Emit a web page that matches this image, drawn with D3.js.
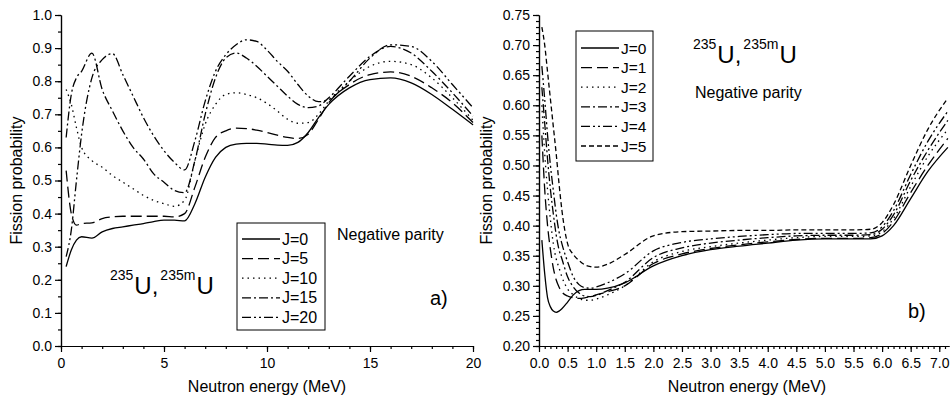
<!DOCTYPE html>
<html>
<head>
<meta charset="utf-8">
<script src="https://cdn.jsdelivr.net/npm/d3@7/dist/d3.min.js"></script>
<style>
  body { margin: 0; background: #fff; }
  svg { display: block; font-family: "Liberation Sans", Arial, sans-serif; }
  .axis path, .axis line { stroke: #000; stroke-width: 1.2; }
  .axis text { font-size: 14px; fill: #000; }
</style>
</head>
<body>
<svg id="chart" width="950" height="398"></svg>
<script>
'use strict';
/*
 *	Data - panel a)
 */
var energyA = [0.25, 0.5, 0.75, 1, 1.5, 2, 2.5, 3, 3.5, 4, 4.5, 5, 5.5, 6, 6.5, 7, 7.5, 8, 8.5, 9,
	9.5, 10, 10.5, 11, 11.5, 12, 12.5, 13, 14, 15, 16, 17, 18, 19, 20];
var aJ0  = [0.24, 0.29, 0.32, 0.33, 0.326, 0.345, 0.355, 0.36, 0.365, 0.37, 0.376, 0.38, 0.38, 0.378, 0.43, 0.51, 0.57, 0.60, 0.61, 0.612,
	0.612, 0.61, 0.607, 0.606, 0.615, 0.645, 0.69, 0.73, 0.78, 0.805, 0.81, 0.795, 0.76, 0.715, 0.668];
var aJ5  = [0.53, 0.40, 0.365, 0.37, 0.372, 0.385, 0.39, 0.392, 0.392, 0.392, 0.392, 0.392, 0.39, 0.40, 0.48, 0.57, 0.63, 0.65, 0.658, 0.657,
	0.652, 0.645, 0.637, 0.63, 0.627, 0.64, 0.685, 0.735, 0.79, 0.82, 0.828, 0.815, 0.78, 0.735, 0.675];
var aJ10 = [0.775, 0.73, 0.66, 0.60, 0.56, 0.54, 0.515, 0.495, 0.475, 0.455, 0.44, 0.43, 0.422, 0.44, 0.56, 0.67, 0.73, 0.76, 0.765, 0.76,
	0.75, 0.733, 0.71, 0.685, 0.673, 0.675, 0.70, 0.74, 0.80, 0.845, 0.86, 0.85, 0.81, 0.75, 0.682];
var aJ15 = [0.63, 0.76, 0.81, 0.83, 0.885, 0.775, 0.71, 0.65, 0.60, 0.565, 0.52, 0.495, 0.47, 0.463, 0.56, 0.70, 0.81, 0.87, 0.885, 0.87,
	0.845, 0.815, 0.785, 0.755, 0.73, 0.72, 0.725, 0.75, 0.815, 0.875, 0.905, 0.885, 0.83, 0.765, 0.695];
var aJ20 = [0.27, 0.35, 0.50, 0.64, 0.81, 0.865, 0.883, 0.82, 0.755, 0.69, 0.635, 0.59, 0.555, 0.532, 0.62, 0.74, 0.83, 0.88, 0.91, 0.925,
	0.92, 0.894, 0.86, 0.83, 0.79, 0.755, 0.738, 0.745, 0.80, 0.87, 0.91, 0.905, 0.86, 0.79, 0.72];
var labelsA = ["J=0", "J=5", "J=10", "J=15", "J=20"];

/*
 *	Data - panel b)
 */
var energyB = [0.05, 0.1, 0.15, 0.2, 0.25, 0.3, 0.35, 0.4, 0.5, 0.6, 0.7, 0.8, 0.9, 1.0, 1.2, 1.5, 2.0, 2.5, 3.0, 3.5,
	4.0, 4.5, 5.0, 5.5, 5.8, 6.0, 6.2, 6.5, 6.8, 7.15];
var bJ0 = [0.376, 0.32, 0.28, 0.265, 0.258, 0.256, 0.258, 0.262, 0.273, 0.285, 0.292, 0.294, 0.294, 0.294, 0.296, 0.305, 0.333, 0.35, 0.36, 0.366,
	0.371, 0.376, 0.378, 0.378, 0.378, 0.383, 0.40, 0.445, 0.49, 0.53];
var bJ1 = [0.55, 0.46, 0.40, 0.36, 0.33, 0.31, 0.298, 0.29, 0.283, 0.28, 0.279, 0.28, 0.282, 0.285, 0.29, 0.30, 0.337, 0.353, 0.362, 0.368,
	0.373, 0.377, 0.379, 0.379, 0.38, 0.387, 0.407, 0.455, 0.50, 0.545];
var bJ2 = [0.60, 0.52, 0.459, 0.41, 0.37, 0.345, 0.33, 0.315, 0.295, 0.285, 0.279, 0.276, 0.276, 0.278, 0.285, 0.30, 0.34, 0.357, 0.365, 0.371,
	0.376, 0.38, 0.382, 0.382, 0.383, 0.39, 0.412, 0.465, 0.515, 0.56];
var bJ3 = [0.63, 0.57, 0.51, 0.46, 0.42, 0.385, 0.36, 0.345, 0.315, 0.298, 0.288, 0.283, 0.282, 0.284, 0.292, 0.306, 0.347, 0.363, 0.371, 0.376,
	0.38, 0.383, 0.384, 0.384, 0.385, 0.394, 0.418, 0.475, 0.525, 0.575];
var bJ4 = [0.665, 0.61, 0.55, 0.50, 0.459, 0.42, 0.39, 0.37, 0.34, 0.315, 0.302, 0.297, 0.296, 0.298, 0.305, 0.32, 0.358, 0.372, 0.378, 0.382,
	0.385, 0.387, 0.387, 0.387, 0.388, 0.398, 0.425, 0.485, 0.54, 0.59];
var bJ5 = [0.73, 0.70, 0.655, 0.61, 0.565, 0.52, 0.47, 0.426, 0.37, 0.352, 0.342, 0.335, 0.332, 0.331, 0.336, 0.352, 0.383, 0.39, 0.391, 0.392,
	0.392, 0.393, 0.393, 0.393, 0.394, 0.405, 0.435, 0.50, 0.56, 0.612];
var labelsB = ["J=0", "J=1", "J=2", "J=3", "J=4", "J=5"];

// line styles
var SOLID = null, LDASH = "11,5", DOT = "1.5,4", DASHDOT = "9,3,2,3", DASHDOTDOT = "9,3,2,3,2,3", SDASH = "5,3";

var svg = d3.select("#chart");

/*
 *	Helpers
 */
function drawPanel(opt){
	var x = d3.scaleLinear().domain(opt.xDomain).range([opt.left, opt.right]);
	var y = d3.scaleLinear().domain(opt.yDomain).range([opt.bottom, opt.top]);
	var g = svg.append("g");

	// minor ticks
	g.append("g").attr("class", "axis").attr("transform", "translate(0," + opt.bottom + ")")
		.call(d3.axisBottom(x).tickValues(opt.xMinor).tickSize(3).tickFormat("").tickSizeOuter(0));
	g.append("g").attr("class", "axis").attr("transform", "translate(" + opt.left + ",0)")
		.call(d3.axisLeft(y).tickValues(opt.yMinor).tickSize(3).tickFormat("").tickSizeOuter(0));
	// major ticks
	g.append("g").attr("class", "axis").attr("transform", "translate(0," + opt.bottom + ")")
		.call(d3.axisBottom(x).tickValues(opt.xTicks).tickSize(6).tickPadding(6).tickSizeOuter(0).tickFormat(opt.xFormat));
	g.append("g").attr("class", "axis").attr("transform", "translate(" + opt.left + ",0)")
		.call(d3.axisLeft(y).tickValues(opt.yTicks).tickSize(6).tickPadding(3).tickSizeOuter(0).tickFormat(opt.yFormat));

	// axis titles
	g.append("text").attr("x", opt.titleMidX).attr("y", 392)
		.attr("text-anchor", "middle").attr("font-size", 16).text("Neutron energy (MeV)");
	g.append("text").attr("transform", "translate(" + opt.titleX + "," + ((opt.top + opt.bottom) / 2) + ") rotate(-90)")
		.attr("text-anchor", "middle").attr("font-size", 16).text("Fission probability");

	// curves
	var line = d3.line().curve(d3.curveMonotoneX)
		.x(function(d){ return x(d[0]); })
		.y(function(d){ return y(d[1]); });
	opt.series.forEach(function(s, i){
		g.append("path")
			.datum(opt.energy.map(function(e, k){ return [e, s[k]]; }))
			.attr("d", line)
			.attr("fill", "none").attr("stroke", "#000").attr("stroke-width", 1.3)
			.attr("stroke-dasharray", opt.dashes[i]);
	});

	// legend
	var lg = opt.legend;
	g.append("rect").attr("x", lg.x).attr("y", lg.y).attr("width", lg.w).attr("height", lg.h)
		.attr("fill", "#fff").attr("stroke", "#000").attr("stroke-width", 1);
	opt.labels.forEach(function(lab, i){
		var yy = lg.y + lg.first + i * lg.step;
		g.append("line").attr("x1", lg.x + 5).attr("x2", lg.x + 43).attr("y1", yy).attr("y2", yy)
			.attr("stroke", "#000").attr("stroke-width", 1.3).attr("stroke-dasharray", opt.dashes[i]);
		g.append("text").attr("x", lg.x + 45).attr("y", yy + 5.5).attr("font-size", lg.font).text(lab);
	});
	return g;
}

function isotopeLabel(g, x0, yBase){
	var t = g.append("text").attr("x", x0).attr("y", yBase).attr("font-size", 24);
	t.append("tspan").attr("font-size", 14).attr("dy", -14).text("235");
	t.append("tspan").attr("dy", 14).attr("dx", 1).text("U,");
	t.append("tspan").attr("font-size", 14).attr("dy", -14).attr("dx", 2).text("235m");
	t.append("tspan").attr("dy", 14).attr("dx", 1).text("U");
}

/*
 *	Panel a)
 */
var gA = drawPanel({
	left: 61, right: 473, top: 15, bottom: 346,
	xDomain: [0, 20], yDomain: [0, 1],
	xTicks: [0, 5, 10, 15, 20], xMinor: d3.range(0, 21, 1),
	yTicks: d3.range(0, 1.01, 0.1), yMinor: d3.range(0, 1.01, 0.05),
	xFormat: d3.format("d"), yFormat: d3.format(".1f"),
	titleX: 22, titleMidX: 267,
	energy: energyA, series: [aJ0, aJ5, aJ10, aJ15, aJ20],
	dashes: [SOLID, LDASH, DOT, DASHDOT, DASHDOTDOT],
	labels: labelsA,
	legend: {x: 237, y: 223, w: 88, h: 107, first: 16, step: 19.6, font: 16}
});
gA.append("text").attr("x", 337).attr("y", 240).attr("font-size", 16).text("Negative parity");
gA.append("text").attr("x", 430).attr("y", 305).attr("font-size", 20).text("a)");
isotopeLabel(gA, 110, 294);

/*
 *	Panel b)
 */
var gB = drawPanel({
	left: 539, right: 949, top: 15, bottom: 346,
	xDomain: [0, 7.17], yDomain: [0.2, 0.75],
	xTicks: d3.range(0, 7.01, 0.5), xMinor: d3.range(0, 7.11, 0.1),
	yTicks: d3.range(0.2, 0.751, 0.05), yMinor: d3.range(0.2, 0.7501, 0.01),
	xFormat: d3.format(".1f"), yFormat: d3.format(".2f"),
	titleX: 492, titleMidX: 747,
	energy: energyB, series: [bJ0, bJ1, bJ2, bJ3, bJ4, bJ5],
	dashes: [SOLID, LDASH, DOT, DASHDOT, DASHDOTDOT, SDASH],
	labels: labelsB,
	legend: {x: 576, y: 31, w: 77, h: 130, first: 17, step: 19.6, font: 15.5}
});
gB.append("text").attr("x", 695).attr("y", 98).attr("font-size", 16).text("Negative parity");
gB.append("text").attr("x", 908).attr("y", 318).attr("font-size", 20).text("b)");
isotopeLabel(gB, 693, 63);
</script>
</body>
</html>
